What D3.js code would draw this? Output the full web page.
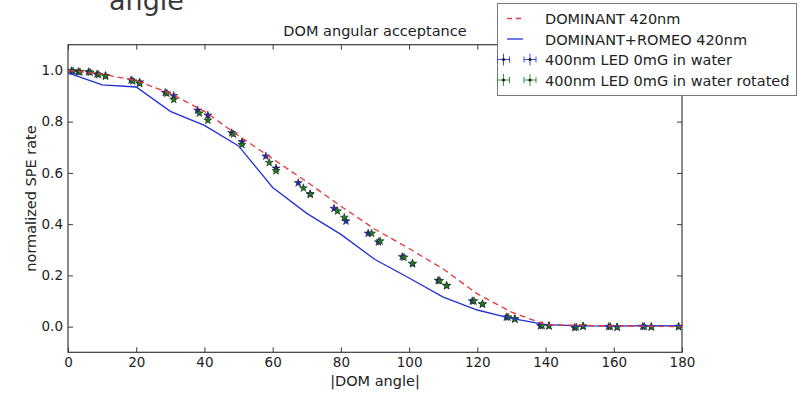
<!DOCTYPE html>
<html>
<head>
<meta charset="utf-8">
<script src="https://cdn.jsdelivr.net/npm/d3@7"></script>
<style>
  body { margin: 0; background: #fff; }
  svg { font-family: "DejaVu Sans", sans-serif; }
</style>
</head>
<body>
<svg id="chart" width="810" height="393"></svg>
<script>
// ============= Data =============
const simAngles = [0, 10, 20, 30, 40, 50, 60, 70, 80, 90, 100, 110, 120, 130, 140, 150, 160, 170, 180];
const dominant = [1.0, 0.985, 0.96, 0.91, 0.84, 0.745, 0.655, 0.565, 0.47, 0.38, 0.305, 0.225, 0.128, 0.057, 0.008, 0.005, 0.003, 0.002, 0.0];
const dominantRomeo = [0.99, 0.943, 0.935, 0.84, 0.785, 0.705, 0.543, 0.442, 0.36, 0.262, 0.19, 0.115, 0.065, 0.032, 0.008, 0.003, 0.002, 0.004, 0.003];

const waterAngles = [1, 3, 6, 8.5, 11, 18.5, 21, 28.5, 31, 38, 41, 48, 51, 58, 61, 67.5, 71, 78, 81.5, 88, 91, 98, 101, 108.5, 111, 118.5, 121.5, 128.5, 131, 138.5, 141, 148.5, 151, 158.5, 161, 168.5, 171, 179];
const waterValues = [0.998, 0.994, 0.994, 0.985, 0.979, 0.962, 0.954, 0.913, 0.901, 0.844, 0.825, 0.756, 0.721, 0.665, 0.618, 0.561, 0.518, 0.461, 0.412, 0.364, 0.33, 0.273, 0.245, 0.18, 0.16, 0.1, 0.088, 0.037, 0.03, 0.003, 0.003, -0.004, 0.001, 0.0, -0.002, 0.001, -0.001, 0.0];

const rotatedAngles = [1.5, 3.5, 6.5, 9, 11, 19, 21, 29, 31, 38.5, 41, 48.5, 51, 59, 61, 69, 71, 79, 81, 89, 91.5, 98.5, 101, 109, 111, 119, 121.5, 129, 131, 139, 141, 149, 151, 159, 161, 169, 171, 179];
const rotatedValues = [0.997, 0.994, 0.992, 0.983, 0.977, 0.958, 0.948, 0.91, 0.886, 0.833, 0.805, 0.751, 0.71, 0.64, 0.608, 0.541, 0.516, 0.451, 0.426, 0.364, 0.334, 0.27, 0.247, 0.179, 0.16, 0.1, 0.088, 0.037, 0.03, 0.004, 0.003, -0.002, 0.002, 0.0, -0.002, 0.0, -0.001, 0.0];

const xTicks = [0, 20, 40, 60, 80, 100, 120, 140, 160, 180];
const yTicks = [0.0, 0.2, 0.4, 0.6, 0.8, 1.0];

// ============= Setup =============
const MARGIN = { LEFT: 68, TOP: 44.7, RIGHT: 128, BOTTOM: 40.7 };
const W = 810 - MARGIN.LEFT - MARGIN.RIGHT;
const H = 393 - MARGIN.TOP - MARGIN.BOTTOM;
const RED = "#e8363a";
const BLUE = "#2030d8";
const AXIS = "#3c3c3c";
const TEXT = "#222";
const WATER = "#2a2ac8";
const ROTATED = "#1f7f1f";

const svg = d3.select("#chart");

// Stray slide text cut off at the top
svg.append("text")
  .attr("x", 109).attr("y", 9.5)
  .style("font-size", "27px").style("fill", "#3a3a3a")
  .text("angle");

const g = svg.append("g").attr("transform", `translate(${MARGIN.LEFT},${MARGIN.TOP})`);

const xScale = d3.scaleLinear().domain([0, 180]).range([0, W]);
const yScale = d3.scaleLinear().domain([-0.1, 1.1]).range([H, 0]);

// ============= Axes =============
const styleAxis = (axis, showText) => {
  axis.select(".domain").remove();
  axis.selectAll("line").attr("stroke", AXIS);
  axis.selectAll("text").style("font-size", "13.5px").style("fill", TEXT)
    .style("font-family", "DejaVu Sans, sans-serif");
  if (!showText) axis.selectAll("text").remove();
};

styleAxis(g.append("g").attr("transform", `translate(0,${H})`)
  .call(d3.axisBottom(xScale).tickValues(xTicks).tickSize(-5).tickPadding(5).tickFormat(d3.format("d"))), true);
styleAxis(g.append("g")
  .call(d3.axisTop(xScale).tickValues(xTicks).tickSize(-5)), false);
styleAxis(g.append("g")
  .call(d3.axisLeft(yScale).tickValues(yTicks).tickSize(-5).tickPadding(5).tickFormat(d3.format(".1f"))), true);
styleAxis(g.append("g").attr("transform", `translate(${W},0)`)
  .call(d3.axisRight(yScale).tickValues(yTicks).tickSize(-5)), false);

g.append("text")
  .attr("x", W / 2).attr("y", -9)
  .attr("text-anchor", "middle")
  .style("font-size", "14.5px").style("fill", TEXT)
  .text("DOM angular acceptance");

g.append("text")
  .attr("x", W / 2).attr("y", H + 34)
  .attr("text-anchor", "middle")
  .style("font-size", "14.5px").style("fill", TEXT)
  .text("|DOM angle|");

g.append("text")
  .attr("transform", "rotate(-90)")
  .attr("x", -H / 2).attr("y", -32)
  .attr("text-anchor", "middle")
  .style("font-size", "14.5px").style("fill", TEXT)
  .text("normalized SPE rate");

// ============= Marks =============
const star = d3.symbol().type(d3.symbolStar).size(20);

const drawPoints = (angles, values, fill) => {
  const pts = angles.map((a, i) => ({ a, v: values[i] }));
  const grp = g.append("g");
  grp.selectAll(".xerr").data(pts).enter().append("line")
    .attr("x1", (d) => xScale(d.a - 0.6)).attr("x2", (d) => xScale(d.a + 0.6))
    .attr("y1", (d) => yScale(d.v)).attr("y2", (d) => yScale(d.v))
    .attr("stroke", fill).attr("stroke-width", 0.8);
  grp.selectAll(".yerr").data(pts).enter().append("line")
    .attr("x1", (d) => xScale(d.a)).attr("x2", (d) => xScale(d.a))
    .attr("y1", (d) => yScale(d.v - 0.01)).attr("y2", (d) => yScale(d.v + 0.01))
    .attr("stroke", fill).attr("stroke-width", 0.8);
  grp.selectAll("path").data(pts).enter().append("path")
    .attr("d", star)
    .attr("transform", (d) => `translate(${xScale(d.a)},${yScale(d.v)})`)
    .attr("fill", fill).attr("stroke", "#111").attr("stroke-width", 0.5);
};

drawPoints(waterAngles, waterValues, WATER);
drawPoints(rotatedAngles, rotatedValues, ROTATED);

const line = d3.line().x((d) => xScale(d[0])).y((d) => yScale(d[1]));

g.append("path")
  .datum(simAngles.map((a, i) => [a, dominantRomeo[i]]))
  .attr("d", line).attr("fill", "none")
  .attr("stroke", BLUE).attr("stroke-width", 1.3);

g.append("path")
  .datum(simAngles.map((a, i) => [a, dominant[i]]))
  .attr("d", line).attr("fill", "none")
  .attr("stroke", RED).attr("stroke-width", 1.3).attr("stroke-dasharray", "6,4");

// Frame
g.append("rect")
  .attr("width", W).attr("height", H)
  .attr("fill", "none").attr("stroke", AXIS).attr("stroke-width", 1.2);

// ============= Legend =============
const legend = svg.append("g");
legend.append("rect")
  .attr("x", 497.5).attr("y", 3.5).attr("width", 299).attr("height", 92)
  .attr("fill", "#fff").attr("stroke", "#777").attr("stroke-width", 1);

const legendItems = [
  { label: "DOMINANT 420nm", kind: "dash", color: RED },
  { label: "DOMINANT+ROMEO 420nm", kind: "solid", color: BLUE },
  { label: "400nm LED 0mG in water", kind: "err", color: "#3a4af0" },
  { label: "400nm LED 0mG in water rotated", kind: "err", color: "#2f9a3a" },
];

legendItems.forEach((item, i) => {
  const cy = 18.5 + i * 20.5;
  if (item.kind === "err") {
    [503.5, 530].forEach((cx) => {
      legend.append("line").attr("x1", cx - 6).attr("x2", cx + 6).attr("y1", cy).attr("y2", cy)
        .attr("stroke", item.color).attr("stroke-width", 1);
      [cx - 6, cx + 6].forEach((ex) => legend.append("line")
        .attr("x1", ex).attr("x2", ex).attr("y1", cy - 3).attr("y2", cy + 3)
        .attr("stroke", item.color).attr("stroke-width", 1));
      legend.append("line").attr("x1", cx).attr("x2", cx).attr("y1", cy - 6).attr("y2", cy + 6)
        .attr("stroke", item.color).attr("stroke-width", 1);
      legend.append("circle").attr("cx", cx).attr("cy", cy).attr("r", 1.6).attr("fill", "#222");
    });
  } else {
    legend.append("line").attr("x1", 507).attr("x2", 523).attr("y1", cy).attr("y2", cy)
      .attr("stroke", item.color).attr("stroke-width", 1.3)
      .attr("stroke-dasharray", item.kind === "dash" ? "5,4" : null);
  }
  legend.append("text")
    .attr("x", 545).attr("y", cy + 5.5)
    .style("font-size", "14.5px").style("fill", TEXT)
    .text(item.label);
});
</script>
</body>
</html>
